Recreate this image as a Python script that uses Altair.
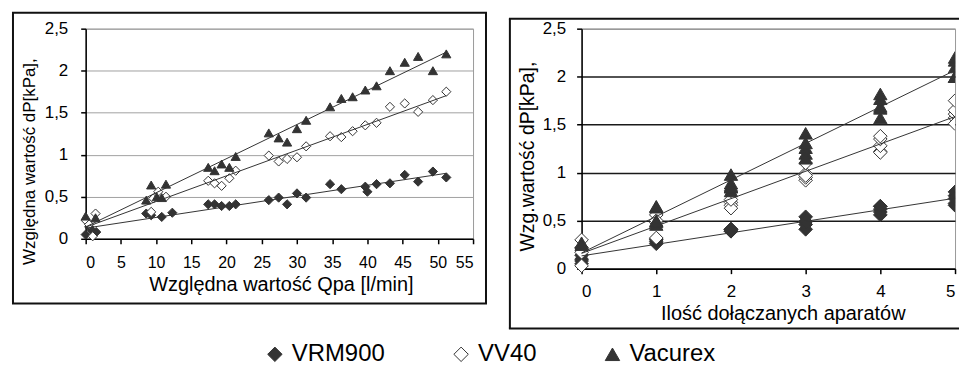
import altair as alt
import pandas as pd

series_order = ["VRM900", "VV40", "Vacurex"]

# VRM900 (filled diamonds)
vrm_qpa = [0, 0.5, 0.9, 1.5, 8.6, 9.3, 10.8, 12.3, 17.4, 18.3, 19.3, 20.4, 21.3, 26.0, 27.4, 28.6, 30.0, 31.3,
           34.7, 36.3, 39.7, 40.0, 41.3, 43.2, 45.3, 47.2, 49.3, 51.2]
vrm_n = [0, 0, 0, 0, 1, 1, 1, 1, 2, 2, 2, 2, 2, 3, 3, 3, 3, 3, 4, 4, 4, 4, 4, 5, 5, 5, 5, 5]
vrm_dp = [0.05, 0.14, 0.10, 0.08, 0.30, 0.28, 0.26, 0.31, 0.41, 0.41, 0.39, 0.39, 0.41, 0.46, 0.49, 0.41, 0.54, 0.49,
          0.65, 0.59, 0.62, 0.56, 0.65, 0.66, 0.76, 0.68, 0.80, 0.73]

# VV40 (open diamonds)
vv_qpa = [0, 0.5, 1.0, 1.4, 9.3, 9.6, 10.3, 11.4, 17.4, 18.3, 19.3, 20.4, 21.3, 26.0, 27.4, 28.6, 30.0, 31.3,
          34.7, 36.3, 37.9, 39.7, 41.3, 43.2, 45.3, 47.2, 49.3, 51.2]
vv_n = [0, 0, 0, 0, 1, 1, 1, 1, 2, 2, 2, 2, 2, 3, 3, 3, 3, 3, 4, 4, 4, 4, 4, 5, 5, 5, 5, 5]
vv_dp = [0.22, 0.17, 0.03, 0.30, 0.32, 0.48, 0.56, 0.50, 0.69, 0.66, 0.63, 0.72, 0.81, 0.99, 0.92, 0.95, 0.97, 1.10,
         1.22, 1.21, 1.28, 1.35, 1.38, 1.57, 1.61, 1.51, 1.65, 1.75]

# Vacurex (filled triangles)
vac_qpa = [0, 1.4, 8.6, 9.3, 10.1, 10.8, 11.4, 17.4, 18.3, 19.3, 20.4, 21.3, 26.0, 27.4, 28.6, 30.0, 31.3,
           34.7, 36.3, 37.9, 39.7, 41.3, 43.2, 45.3, 47.2, 49.3, 51.2]
vac_n = [0, 0, 1, 1, 1, 1, 1, 2, 2, 2, 2, 2, 3, 3, 3, 3, 3, 4, 4, 4, 4, 4, 5, 5, 5, 5, 5]
vac_dp = [0.27, 0.25, 0.46, 0.64, 0.50, 0.49, 0.65, 0.85, 0.81, 0.89, 0.85, 0.98, 1.26, 1.20, 1.15, 1.31, 1.41,
          1.57, 1.67, 1.69, 1.77, 1.82, 2.00, 2.10, 2.17, 2.00, 2.20]

x_ticks_left = [0, 5, 10, 15, 20, 25, 30, 35, 40, 45, 50, 55]
x_ticks_right = [0, 1, 2, 3, 4, 5]
y_ticks = [0, 0.5, 1, 1.5, 2, 2.5]

left_x_title = "Względna wartość Qpa [l/min]"
left_y_title = "Względna wartość dP[kPa],"
right_x_title = "Ilość dołączanych aparatów"
right_y_title = "Wzg.wartość dP[kPa],"

frames = []
for name, q, n, d in [("VRM900", vrm_qpa, vrm_n, vrm_dp),
                      ("VV40", vv_qpa, vv_n, vv_dp),
                      ("Vacurex", vac_qpa, vac_n, vac_dp)]:
    frames.append(pd.DataFrame({"series": name, "qpa": q, "n": n, "dp": d}))
df = pd.concat(frames, ignore_index=True)
frame_df = pd.DataFrame({"k": [0]})

comma = "replace(format(datum.value, '~g'), '.', ',')"
INK = "#333333"

legend = alt.Legend(orient="none", direction="horizontal", legendX=178, legendY=315, title=None,
                    labelFontSize=24, labelColor="black", symbolSize=210, symbolStrokeColor=INK,
                    symbolStrokeWidth=1, labelOffset=5, columnPadding=64, padding=0)
shape_enc = alt.Shape("series:N", scale=alt.Scale(domain=series_order,
                      range=["diamond", "diamond", "triangle-up"]), legend=legend)
fill_enc = alt.Fill("series:N", scale=alt.Scale(domain=series_order,
                    range=[INK, "#ffffff", INK]), legend=legend)
stroke_enc = alt.Stroke("series:N", scale=alt.Scale(domain=series_order,
                        range=[INK, INK, INK]), legend=legend)

y_scale = alt.Scale(domain=[0, 2.5], nice=False)
axis_common = dict(domainColor="black", tickColor="black", domainWidth=1.5, tickWidth=1.5,
                   labelColor="black", titleColor="black", titleFontWeight="normal",
                   labelOverlap=False, tickSize=5)

# ---------- left panel ----------
W1, H1 = 389, 211
lx = alt.X("qpa:Q", scale=alt.Scale(domain=[0, 55], nice=False),
           axis=alt.Axis(values=x_ticks_left, format="d", title=left_x_title, grid=False, labelFontSize=16,
                         titleFontSize=20, labelPadding=11,
                         titleX=196, titleY=52, titleBaseline="alphabetic", **axis_common))
ly = alt.Y("dp:Q", scale=y_scale,
           axis=alt.Axis(values=y_ticks, labelExpr=comma, title=left_y_title, grid=True,
                         gridColor="#a0a0a0", gridWidth=1, labelFontSize=17, titleFontSize=17,
                         labelPadding=13, titleX=-51, titleY=133, titleBaseline="alphabetic",
                         titleAlign="center", **axis_common))

left_frame = alt.Chart(frame_df).mark_rect(filled=False, stroke="#111111", strokeWidth=2).encode(
    x=alt.value(-73), x2=alt.value(402), y=alt.value(-16), y2=alt.value(276))
left_pts = alt.Chart(df).mark_point(filled=True, opacity=1, strokeWidth=1).encode(
    x=lx, y=ly, shape=shape_enc, fill=fill_enc, stroke=stroke_enc,
    size=alt.Size("series:N", scale=alt.Scale(domain=series_order, range=[85, 85, 140]), legend=None))
left_reg = alt.Chart(df).transform_regression("qpa", "dp", groupby=["series"]).mark_line(
    color=INK, strokeWidth=1).encode(x=lx, y=ly, detail="series:N")
left = alt.layer(left_frame, left_pts, left_reg).properties(width=W1, height=H1)

# ---------- right panel ----------
W2, H2 = 375, 241
rx = alt.X("n:Q", scale=alt.Scale(domain=[0, 5], nice=False),
           axis=alt.Axis(values=x_ticks_right, format="d", title=right_x_title, grid=False, labelFontSize=17,
                         titleFontSize=20, labelPadding=10,
                         titleX=202, titleY=51, titleBaseline="alphabetic", **axis_common))
ry = alt.Y("dp:Q", scale=y_scale,
           axis=alt.Axis(values=y_ticks, labelExpr=comma, title=right_y_title, grid=True,
                         gridColor={"condition": {"test": "datum.value >= 2.5", "value": "#999999"},
                                    "value": "#1a1a1a"},
                         gridWidth=1.5, labelFontSize=17, titleFontSize=19.5,
                         labelPadding=11, titleX=-48, titleY=128, titleBaseline="alphabetic",
                         titleAlign="center", **axis_common))

FR = dict(color="#111111", strokeWidth=2)
right_frame_l = alt.Chart(frame_df).mark_rule(**FR).encode(
    x=alt.value(-72), y=alt.value(-10), y2=alt.value(301))
right_frame_t = alt.Chart(frame_df).mark_rule(**FR).encode(
    x=alt.value(-73), x2=alt.value(379), y=alt.value(-10))
right_frame_b = alt.Chart(frame_df).mark_rule(**FR).encode(
    x=alt.value(-73), x2=alt.value(379), y=alt.value(301))

size_r = alt.Size("series:N", scale=alt.Scale(domain=series_order, range=[190, 180, 200]), legend=None)
right_pts = alt.Chart(df).transform_filter("datum.n < 5").mark_point(
    filled=True, opacity=1, strokeWidth=1).encode(
    x=rx, y=ry, shape=shape_enc, fill=fill_enc, stroke=stroke_enc, size=size_r)
right_pts_edge = alt.Chart(df).transform_filter("datum.n >= 5").mark_point(
    filled=True, opacity=1, strokeWidth=1, clip=True).encode(
    x=rx, y=ry, shape=shape_enc, fill=fill_enc, stroke=stroke_enc, size=size_r)
right_reg = alt.Chart(df).transform_regression("n", "dp", groupby=["series"]).mark_line(
    color=INK, strokeWidth=1).encode(x=rx, y=ry, detail="series:N")
right = alt.layer(right_frame_l, right_frame_t, right_frame_b, right_pts, right_pts_edge,
                  right_reg).properties(width=W2, height=H2)

chart = alt.hconcat(left, right, spacing=19).resolve_scale(
    shape="shared", fill="shared", stroke="shared", size="independent"
).resolve_legend(shape="shared", fill="shared", stroke="shared").configure(
    font="Liberation Sans", padding={"left": 3, "top": 2, "right": 0, "bottom": 0}
).configure_view(stroke="#999999", strokeWidth=1)

chart.save("out.html", embed_options={"renderer": "svg", "actions": False})
